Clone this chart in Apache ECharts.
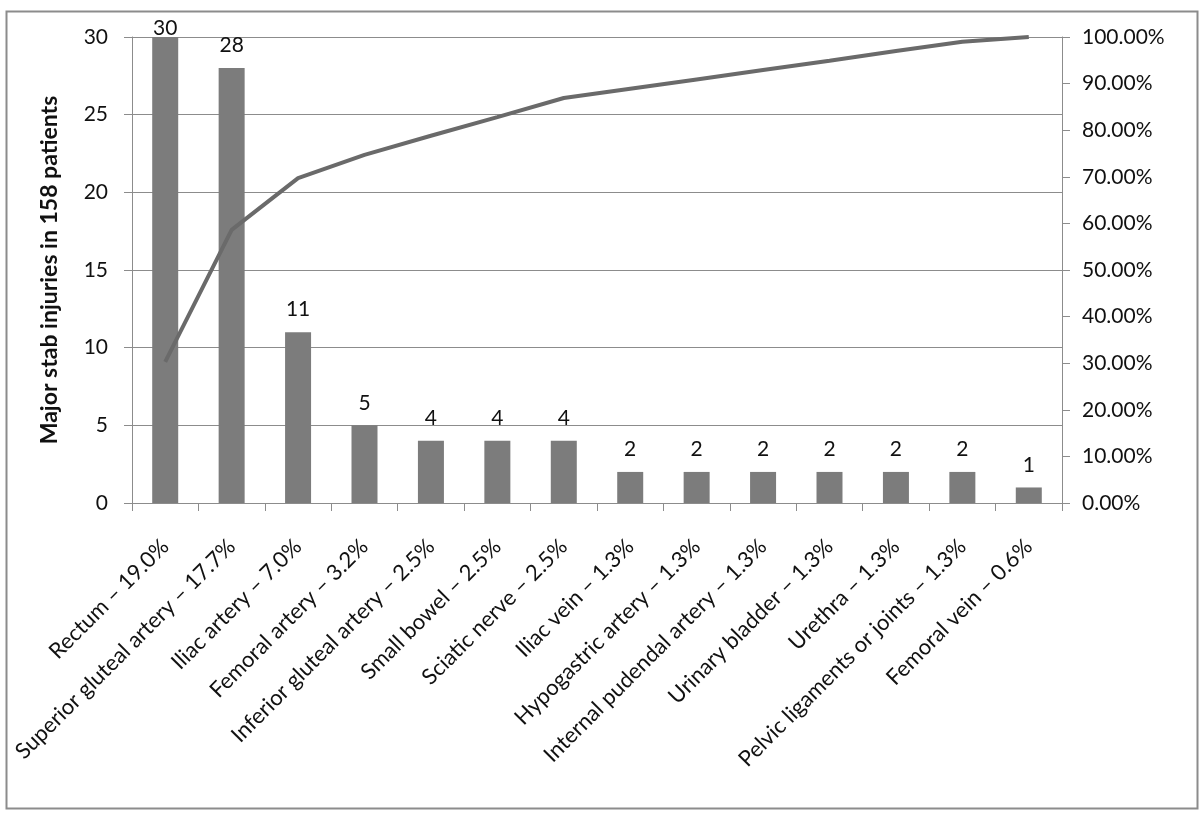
<!DOCTYPE html>
<html>
<head>
<meta charset="utf-8">
<script src="https://cdn.jsdelivr.net/npm/echarts@6/dist/echarts.min.js"></script>
<style>html,body{margin:0;padding:0;background:#fff}#c{width:1200px;height:816px}</style>
</head>
<body>
<div id="c"></div>
<script>
const categories = [
  "Rectum – 19.0%",
  "Superior gluteal artery – 17.7%",
  "Iliac artery – 7.0%",
  "Femoral artery – 3.2%",
  "Inferior gluteal artery – 2.5%",
  "Small bowel – 2.5%",
  "Sciatic nerve – 2.5%",
  "Iliac vein – 1.3%",
  "Hypogastric artery – 1.3%",
  "Internal pudendal artery – 1.3%",
  "Urinary bladder – 1.3%",
  "Urethra – 1.3%",
  "Pelvic ligaments or joints – 1.3%",
  "Femoral vein – 0.6%"
];
const injuries = [30, 28, 11, 5, 4, 4, 4, 2, 2, 2, 2, 2, 2, 1];
const cumulativePct = [30.3, 58.6, 69.7, 74.7, 78.8, 82.8, 86.9, 88.9, 90.9, 92.9, 94.9, 97.0, 99.0, 100.0];
const leftTicks = [0, 5, 10, 15, 20, 25, 30];
const rightTicks = [0, 10, 20, 30, 40, 50, 60, 70, 80, 90, 100];

const FONT = "Lato, 'Open Sans', sans-serif";
const yMax = 30;
const chart = echarts.init(document.getElementById('c'), null, {renderer: 'canvas'});
chart.setOption({
  animation: false,
  backgroundColor: '#fff',
  textStyle: {fontFamily: FONT},
  graphic: [{
    type: 'rect', left: 4, top: 9, z: -1,
    shape: {width: 1191, height: 797},
    style: {fill: 'none', stroke: '#8c8c8c', lineWidth: 2}
  }],
  grid: {left: 132, right: 138, top: 37, bottom: 313},
  xAxis: {
    type: 'category',
    data: categories,
    axisLine: {lineStyle: {color: '#8c8c8c', width: 1}},
    axisTick: {show: true, length: 8, alignWithLabel: false, lineStyle: {color: '#8c8c8c'}},
    axisLabel: {rotate: 45, fontSize: 22, color: '#111', margin: 40, interval: 0, fontFamily: FONT}
  },
  yAxis: [{
    type: 'value', min: 0, max: yMax, interval: 5,
    name: 'Major stab injuries in 158 patients',
    nameLocation: 'middle', nameGap: 71, nameRotate: 90,
    nameTextStyle: {fontSize: 23, fontWeight: 'bold', color: '#111', fontFamily: FONT},
    axisLine: {show: true, lineStyle: {color: '#8c8c8c'}},
    axisTick: {show: true, length: 8, inside: false, lineStyle: {color: '#8c8c8c'}},
    axisLabel: {fontSize: 21, color: '#111', margin: 24, fontFamily: FONT,
      formatter: v => leftTicks.includes(v) ? String(v) : ''},
    splitLine: {show: true, lineStyle: {color: '#8c8c8c', width: 1}}
  }, {
    type: 'value', min: 0, max: 100, interval: 10, position: 'right',
    axisLine: {show: true, lineStyle: {color: '#8c8c8c'}},
    axisTick: {show: true, length: 8, lineStyle: {color: '#8c8c8c'}},
    axisLabel: {fontSize: 21, color: '#111', margin: 20, fontFamily: FONT,
      formatter: v => rightTicks.includes(v) ? v.toFixed(2) + '%' : ''},
    splitLine: {show: false}
  }],
  series: [{
    type: 'bar',
    data: injuries.map(v => v >= yMax ? {value: v, label: {distance: -2}} : v),
    yAxisIndex: 0,
    barWidth: 26,
    itemStyle: {color: '#7c7c7c'},
    label: {show: true, position: 'top', fontSize: 21, color: '#111', distance: 12, fontFamily: FONT}
  }, {
    type: 'line',
    data: cumulativePct,
    yAxisIndex: 1,
    symbol: 'none',
    lineStyle: {color: '#6a6a6a', width: 4},
    z: 5
  }]
});
</script>
</body>
</html>
